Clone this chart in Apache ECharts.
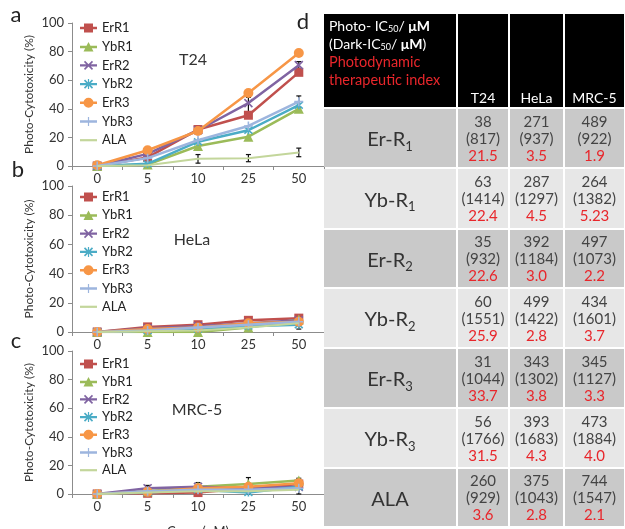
<!DOCTYPE html>
<html><head><meta charset="utf-8">
<script src="https://cdn.jsdelivr.net/npm/echarts@6/dist/echarts.min.js"></script>
<style>html,body{margin:0;padding:0;background:#fff}#c{width:625px;height:529px}</style>
</head><body><div id="c"></div>
<script>
// ---------- data ----------
const concLabels = ['0', '5', '10', '25', '50'];
const seriesNames = ['ErR1', 'YbR1', 'ErR2', 'YbR2', 'ErR3', 'YbR3', 'ALA'];

const t24ErR1 = [0, 6, 25.5, 35.5, 65.5];
const t24YbR1 = [0, 1, 14, 20.5, 40];
const t24ErR2 = [0, 8.5, 25, 44, 70.5];
const t24YbR2 = [0, 1.5, 17, 25, 42.5];
const t24ErR3 = [0.5, 11, 24.5, 51, 79];
const t24YbR3 = [0, 5.5, 18, 28, 45];
const t24ALA  = [0, 0.5, 5, 5.5, 9.5];
const t24Err  = [[1, 3, 7], [2, 22.5, 28], [2, 2, 8], [3, 34, 48], [3, 3, 8], [4, 68, 73], [4, 41, 49], [4, 6.5, 12.5]];

const helaErR1 = [0, 3.5, 5, 8, 9.5];
const helaYbR1 = [0, 0, 0, 3, 8.5];
const helaErR2 = [0, 2.5, 4, 6, 8];
const helaYbR2 = [0, 1, 2, 4, 5];
const helaErR3 = [0, 2, 3, 6, 7];
const helaYbR3 = [0, 1, 3, 5, 7];
const helaALA  = [0, 0.5, 1, 3, 6];
const helaErr  = [[4, 2, 5]];

const mrcErR1 = [0, 0.5, 1, 4, 7];
const mrcYbR1 = [0, 2, 5, 7, 9.5];
const mrcErR2 = [0, 4, 5, 4, 5];
const mrcYbR2 = [0, 1, 3, 1, 5];
const mrcErR3 = [0, 1.5, 4, 5, 7.5];
const mrcYbR3 = [0, 2, 3, 3, 4];
const mrcALA  = [0, 1, 2, 2, 3];
const mrcErr  = [[1, 2, 6], [2, 4, 8], [3, 0, 11.5], [4, 0, 11]];

const tableCols = ['T24', 'HeLa', 'MRC-5'];
const compoundNames = ['Er-R', 'Yb-R', 'Er-R', 'Yb-R', 'Er-R', 'Yb-R', 'ALA'];
const compoundSubs = ['1', '1', '2', '2', '3', '3', ''];
const photoT24  = [38, 63, 35, 60, 31, 56, 260];
const photoHeLa = [271, 287, 392, 499, 343, 393, 375];
const photoMRC5 = [489, 264, 497, 434, 345, 473, 744];
const darkT24  = [817, 1414, 932, 1551, 1044, 1766, 929];
const darkHeLa = [937, 1297, 1184, 1422, 1302, 1683, 1043];
const darkMRC5 = [922, 1382, 1073, 1601, 1127, 1884, 1547];
const pdtT24  = ['21.5', '22.4', '22.6', '25.9', '33.7', '31.5', '3.6'];
const pdtHeLa = ['3.5', '4.5', '3.0', '2.8', '3.8', '4.3', '2.8'];
const pdtMRC5 = ['1.9', '5.23', '2.2', '3.7', '3.3', '4.0', '2.1'];

// ---------- styling / layout ----------
const FONT = 'Lato';
const colors = ['#C0504D', '#9BBB59', '#8064A2', '#4BACC6', '#F79646', '#9DB5DE', '#C3D69B'];
const symbols = ['rect', 'triangle', 'path://M0,0L10,10M10,0L0,10',
  'path://M0,0L10,10M10,0L0,10M5,-1L5,11', 'circle', 'path://M5,0L5,10M0,5L10,5', 'none'];
const symSizes = [9, 10, 8, 8, 10, 9, 1];
const strokeSym = [false, false, true, true, false, true, false];

// legend icons: line + marker, drawn in a 17x10 box
const LINE = 'M0,3.8L17,3.8L17,6.2L0,6.2Z';
const XBARS = 'M5.07,0.43L13.07,8.43L11.93,9.57L3.93,1.57ZM11.93,0.43L13.07,1.57L5.07,9.57L3.93,8.43Z';
const legendIcons = [
  'path://M0,3.8L4,3.8L4,0.5L13,0.5L13,3.8L17,3.8L17,6.2L13,6.2L13,9.5L4,9.5L4,6.2L0,6.2Z',
  'path://' + LINE + 'M8.5,0L13.5,9.5L3.5,9.5Z',
  'path://' + LINE + XBARS,
  'path://' + LINE + XBARS + 'M7.9,0L9.1,0L9.1,10L7.9,10Z',
  'path://' + LINE + 'M8.5,0A5,5 0 1,1 8.5,10A5,5 0 1,1 8.5,0Z',
  'path://' + LINE + 'M7.9,0.5L9.1,0.5L9.1,9.5L7.9,9.5Z',
  'path://M0,0L17,0L17,2.2L0,2.2Z'
];

const panels = [
  { title: 'T24', top: 23, height: 143, data: [t24ErR1, t24YbR1, t24ErR2, t24YbR2, t24ErR3, t24YbR3, t24ALA], err: t24Err, legTop: 21, legGap: 4.7, titleY: 60, titleX: 193 },
  { title: 'HeLa', top: 186, height: 146, data: [helaErR1, helaYbR1, helaErR2, helaYbR2, helaErR3, helaYbR3, helaALA], err: helaErr, legTop: 190, legGap: 4.3, titleY: 240, titleX: 192 },
  { title: 'MRC-5', top: 351, height: 143, data: [mrcErR1, mrcYbR1, mrcErR2, mrcYbR2, mrcErR3, mrcYbR3, mrcALA], err: mrcErr, legTop: 357, legGap: 3.7, titleY: 410, titleX: 197 }
];

const colEdges = [0, 134, 186, 241, 302];
const rowEdges = [0, 95, 155, 216, 275, 335, 395, 455, 514];

const grids = [], xAxes = [], yAxes = [], series = [], legends = [], graphics = [];
const axisColor = '#8c8c8c';

panels.forEach((p, i) => {
  grids.push({ left: 72, top: p.top, width: 252, height: p.height, outerBoundsMode: 'none' });
  xAxes.push({
    type: 'category', gridIndex: i, data: concLabels, boundaryGap: true,
    axisLine: { lineStyle: { color: axisColor, width: 1 } },
    axisTick: { show: true, length: 4, lineStyle: { color: axisColor } },
    axisLabel: { margin: 6, fontSize: 13, color: '#333', fontFamily: FONT },
    name: i === 2 ? 'Cons. (\u03bcM)' : '', nameLocation: 'middle', nameGap: 31,
    nameTextStyle: { fontSize: 13, color: '#333', fontFamily: FONT }
  });
  yAxes.push({
    type: 'value', gridIndex: i, min: 0, max: 100, interval: 20,
    axisLine: { show: true, lineStyle: { color: axisColor, width: 1 } },
    axisTick: { show: true, length: 4, lineStyle: { color: axisColor } },
    splitLine: { show: false },
    axisLabel: { margin: 8, fontSize: 13, color: '#333', fontFamily: FONT },
    name: 'Photo-Cytotoxicity (%)', nameLocation: 'middle', nameGap: 37,
    nameTextStyle: { fontSize: 12, color: '#333', fontFamily: FONT }
  });
  series.push({
    type: 'custom', name: 'err' + i, xAxisIndex: i, yAxisIndex: i, data: p.err, z: 1,
    encode: { x: 0, y: [1, 2] },
    renderItem: (params, api) => {
      const c = api.value(0);
      const lo = api.coord([c, api.value(1)]);
      const hi = api.coord([c, api.value(2)]);
      const hw = 2.5;
      const st = { stroke: '#111', lineWidth: 1.2 };
      return {
        type: 'group', children: [
          { type: 'line', shape: { x1: lo[0], y1: lo[1], x2: hi[0], y2: hi[1] }, style: st },
          { type: 'line', shape: { x1: lo[0] - hw, y1: lo[1], x2: lo[0] + hw, y2: lo[1] }, style: st },
          { type: 'line', shape: { x1: hi[0] - hw, y1: hi[1], x2: hi[0] + hw, y2: hi[1] }, style: st }
        ]
      };
    }
  });
  seriesNames.forEach((n, k) => {
    series.push({
      type: 'line', name: n, xAxisIndex: i, yAxisIndex: i, data: p.data[k],
      symbol: symbols[k], symbolSize: symSizes[k], showSymbol: symbols[k] !== 'none',
      lineStyle: { color: colors[k], width: k === 6 ? 2 : 2.5 },
      itemStyle: { color: colors[k], borderColor: colors[k], borderWidth: strokeSym[k] ? 1.6 : 0 },
      z: 2 + k
    });
  });
  legends.push({
    orient: 'vertical', left: 80, top: p.legTop, itemGap: p.legGap, padding: 0,
    itemWidth: 17, itemHeight: 10, symbolKeepAspect: true,
    data: seriesNames.map((n, k) => ({ name: n, icon: legendIcons[k] })),
    itemStyle: { borderWidth: 0 },
    textStyle: { fontSize: 13, color: '#222', fontFamily: FONT, lineHeight: 14 },
    selectedMode: false
  });
  graphics.push({
    type: 'text', x: p.titleX, y: p.titleY,
    style: { text: p.title, align: 'center', verticalAlign: 'middle', fontSize: 16, fill: '#333', fontFamily: FONT }
  });
});

// panel letters
[['a', 16, 15], ['b', 18, 170], ['c', 16, 341], ['d', 303, 22]].forEach(l => {
  graphics.push({
    type: 'text', x: l[1], y: l[2],
    style: { text: l[0], align: 'center', verticalAlign: 'middle', fontSize: 22, fill: '#222', fontFamily: FONT }
  });
});

// table grid
grids.push({ left: 323, top: 13, width: 302, height: 514, outerBoundsMode: 'none' });
xAxes.push({ type: 'value', gridIndex: 3, min: 0, max: 302, show: false });
yAxes.push({ type: 'value', gridIndex: 3, min: 0, max: 514, inverse: true, show: false });

const cells = [];
for (let r = 0; r < 8; r++) for (let c = 0; c < 4; c++) cells.push([c, r]);
const photo = [photoT24, photoHeLa, photoMRC5];
const dark = [darkT24, darkHeLa, darkMRC5];
const pdt = [pdtT24, pdtHeLa, pdtMRC5];

series.push({
  type: 'custom', name: 'table', xAxisIndex: 3, yAxisIndex: 3, data: cells, z: 10, clip: false,
  renderItem: (params, api) => {
    const c = api.value(0), r = api.value(1);
    const p0 = api.coord([colEdges[c], rowEdges[r]]);
    const p1 = api.coord([colEdges[c + 1], rowEdges[r + 1]]);
    const x = p0[0] + 1, y = p0[1] + 1, w = p1[0] - p0[0] - 2, h = p1[1] - p0[1] - 2;
    const fill = r === 0 ? '#000' : (r % 2 === 1 ? '#C9C9C9' : '#E7E7E7');
    const ch = [{ type: 'rect', shape: { x, y, width: w, height: h }, style: { fill } }];
    if (r === 0 && c === 0) {
      ch.push({
        type: 'text', x: x + 5, y: y + 3,
        style: {
          text: '{w|Photo- IC}{ws|50}{w|/ }{wb|\u03bcM}\n{w|(Dark-IC}{ws|50}{w|/ }{wb|\u03bcM}{w|)}\n{r|Photodynamic}\n{r|therapeutic index}',
          align: 'left', verticalAlign: 'top',
          rich: {
            w: { fontSize: 14, fill: '#fff', lineHeight: 18, fontFamily: FONT },
            wb: { fontSize: 14, fill: '#fff', lineHeight: 18, fontWeight: 'bold', fontFamily: FONT },
            ws: { fontSize: 9, fill: '#fff', padding: [7, 0, 0, 0], fontFamily: FONT },
            r: { fontSize: 14.5, fill: '#E8262B', lineHeight: 18, fontFamily: FONT }
          }
        }
      });
    } else if (r === 0) {
      ch.push({
        type: 'text', x: x + w / 2, y: p0[1] + 85,
        style: { text: tableCols[c - 1], align: 'center', verticalAlign: 'middle', fontSize: 14, fill: '#fff', fontFamily: FONT }
      });
    } else if (c === 0) {
      const k = r - 1;
      const txt = compoundSubs[k] ? '{a|' + compoundNames[k] + '}{s|' + compoundSubs[k] + '}' : '{a|' + compoundNames[k] + '}';
      ch.push({
        type: 'text', x: x + w / 2, y: y + h / 2 + 2,
        style: {
          text: txt, align: 'center', verticalAlign: 'middle',
          rich: {
            a: { fontSize: 20, fill: '#333', lineHeight: 26, fontFamily: FONT },
            s: { fontSize: 13, fill: '#333', padding: [13, 0, 0, 0], fontFamily: FONT }
          }
        }
      });
    } else {
      const k = r - 1, j = c - 1;
      ch.push({
        type: 'text', x: x + w / 2, y: y + h / 2 + 1,
        style: {
          text: '{n|' + photo[j][k] + '}\n{n|(' + dark[j][k] + ')}\n{r|' + pdt[j][k] + '}',
          align: 'center', verticalAlign: 'middle',
          rich: {
            n: { fontSize: 15, fill: '#444', lineHeight: 17, fontFamily: FONT },
            r: { fontSize: 15, fill: '#E8262B', lineHeight: 17, fontFamily: FONT }
          }
        }
      });
    }
    return { type: 'group', children: ch };
  }
});

const chart = echarts.init(document.getElementById('c'), null, { renderer: 'canvas' });
chart.setOption({
  animation: false,
  backgroundColor: '#fff',
  textStyle: { fontFamily: FONT },
  grid: grids, xAxis: xAxes, yAxis: yAxes, legend: legends, series: series, graphic: graphics
});
</script></body></html>
